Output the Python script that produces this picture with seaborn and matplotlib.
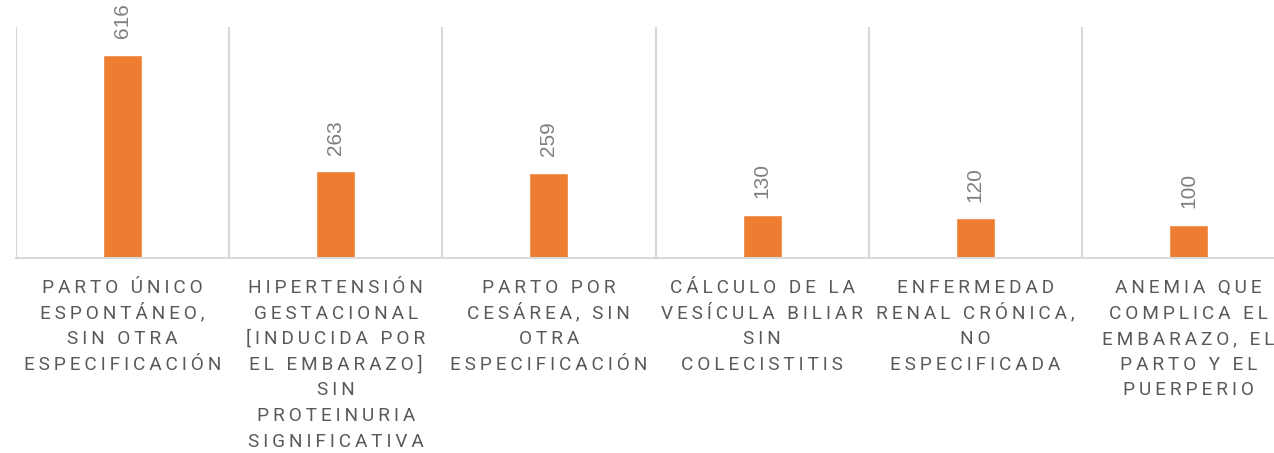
import matplotlib
matplotlib.use("Agg")
import matplotlib.pyplot as plt
import seaborn as sns
import pandas as pd
from matplotlib.ticker import FixedLocator

categories = [
    "PARTO ÚNICO\nESPONTÁNEO,\nSIN OTRA\nESPECIFICACIÓN",
    "HIPERTENSIÓN\nGESTACIONAL\n[INDUCIDA POR\nEL EMBARAZO]\nSIN\nPROTEINURIA\nSIGNIFICATIVA",
    "PARTO POR\nCESÁREA, SIN\nOTRA\nESPECIFICACIÓN",
    "CÁLCULO DE LA\nVESÍCULA BILIAR\nSIN\nCOLECISTITIS",
    "ENFERMEDAD\nRENAL CRÓNICA,\nNO\nESPECIFICADA",
    "ANEMIA QUE\nCOMPLICA EL\nEMBARAZO, EL\nPARTO Y EL\nPUERPERIO",
]
casos = [616, 263, 259, 130, 120, 100]

BAR_COLOR = "#ED7D31"
GRID_COLOR = "#D9D9D9"
LABEL_COLOR = "#595959"
VALUE_COLOR = "#7F7F7F"


def spaced(line, gap="\u2009"):
    # mimic the wide letter spacing of the original labels
    return gap.join(line)


sns.set_theme(style="white")
plt.rcParams["font.family"] = ["Roboto", "DejaVu Sans"]

df = pd.DataFrame({"categoria": categories, "casos": casos})

fig = plt.figure(figsize=(12.74, 4.53), dpi=100)
ax = fig.add_axes([16 / 1274, 195 / 453, 1279 / 1274, 231 / 453])

sns.barplot(data=df, x="categoria", y="casos", color=BAR_COLOR,
            width=0.183, saturation=1, ax=ax)

ax.set_ylim(0, 700)
ax.set_xlim(-0.5, len(categories) - 0.5)

# value labels
ax.bar_label(ax.containers[0], rotation=90, padding=12, color=VALUE_COLOR,
             fontsize=15, family=["Liberation Sans", "DejaVu Sans"])

# category separators
ax.xaxis.set_minor_locator(FixedLocator([i - 0.5 for i in range(len(categories) + 1)]))
ax.grid(True, which="minor", axis="x", color=GRID_COLOR, linewidth=1.5)
ax.grid(False, which="major")
ax.tick_params(axis="x", which="both", length=0)
ax.set_xticks(range(len(categories)))
ax.set_xticklabels([""] * len(categories))

# category labels, one line at a time so the line pitch stays even
for i, cat in enumerate(categories):
    for j, line in enumerate(cat.split("\n")):
        ax.annotate(spaced(line), xy=(i, 0), xycoords=("data", "axes fraction"),
                    xytext=(0, -35 - 25.6 * j), textcoords="offset pixels",
                    ha="center", va="baseline", color=LABEL_COLOR,
                    fontsize=13.7, annotation_clip=False)

ax.set_yticks([])
ax.set_xlabel("")
ax.set_ylabel("")
for side in ["top", "right", "left"]:
    ax.spines[side].set_visible(False)
ax.spines["bottom"].set_color(GRID_COLOR)
ax.spines["bottom"].set_linewidth(1.5)

fig.savefig("out.png", dpi=100)
